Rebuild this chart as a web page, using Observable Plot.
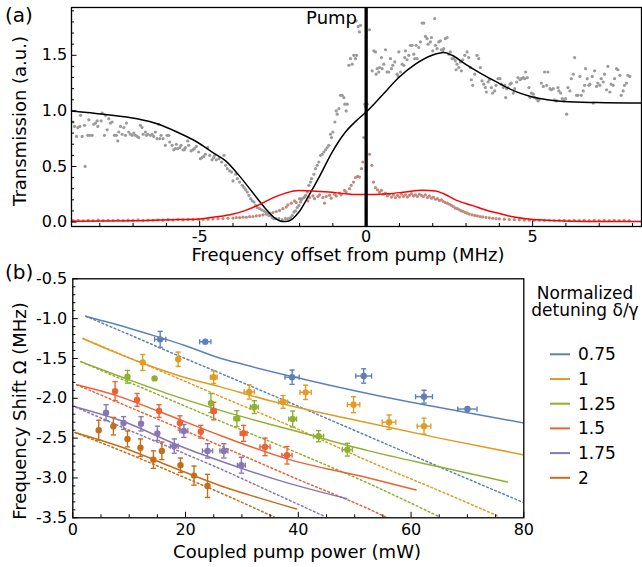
<!DOCTYPE html>
<html><head><meta charset="utf-8">
<script src="https://cdn.jsdelivr.net/npm/d3@7"></script>
<script src="https://cdn.jsdelivr.net/npm/@observablehq/plot@0.6"></script>
<style>
body{margin:0;background:#fff;font-family:"DejaVu Sans",sans-serif;}
#root{position:relative;width:642px;height:567px;overflow:hidden;background:#fff;}
</style></head><body><div id="root"></div>
<script>
// ---------- Panel (a) data ----------
const probePts = [
[-8.80,0.90],[-8.76,0.86],[-8.70,0.77],[-8.66,0.85],[-8.58,0.96],[-8.60,0.86],[-8.53,0.77],[-8.46,0.87],[-8.44,0.50],[-8.36,0.78],[-8.33,0.92],[-8.30,0.78],[-8.23,0.78],[-8.18,0.88],[-8.13,0.89],[-8.08,0.91],[-8.06,0.86],[-7.96,0.91],[-7.93,0.98],[-7.86,0.78],[-7.83,0.96],[-7.78,0.83],[-7.73,0.93],[-7.68,0.89],[-7.63,0.90],[-7.56,0.78],[-7.50,0.78],[-7.46,0.73],[-7.43,0.81],[-7.38,0.86],[-7.33,0.79],[-7.28,0.85],[-7.23,0.78],[-7.20,0.89],[-7.13,0.81],[-7.08,0.79],[-7.03,0.78],[-6.98,0.80],[-6.93,0.78],[-6.88,0.77],[-6.83,0.76],[-6.78,0.87],[-6.73,0.85],[-6.70,0.79],[-6.63,0.81],[-6.60,0.78],[-6.56,0.79],[-6.48,0.78],[-6.43,0.79],[-6.38,0.77],[-6.33,0.81],[-6.28,0.75],[-6.23,0.88],[-6.20,0.75],[-6.16,0.78],[-6.10,0.75],[-6.03,0.69],[-5.98,0.78],[-5.93,0.78],[-5.90,0.72],[-5.83,0.69],[-5.78,0.65],[-5.73,0.66],[-5.70,0.70],[-5.66,0.66],[-5.60,0.67],[-5.56,0.69],[-5.50,0.65],[-5.46,0.65],[-5.43,0.67],[-5.36,0.73],[-5.33,0.69],[-5.26,0.64],[-5.20,0.65],[-5.16,0.66],[-5.10,0.68],[-5.03,0.63],[-4.98,0.57],[-4.93,0.58],[-4.88,0.59],[-4.83,0.61],[-4.76,0.67],[-4.70,0.60],[-4.63,0.56],[-4.58,0.58],[-4.55,0.60],
[-4.50,0.56],[-4.42,0.57],[-4.34,0.54],[-4.27,0.60],[-4.22,0.51],[-4.17,0.48],[-4.10,0.46],[-4.04,0.45],[-4.00,0.37],[-3.92,0.43],[-3.87,0.39],[-3.80,0.36],[-3.72,0.33],[-3.67,0.31],[-3.62,0.29],[-3.57,0.27],[-3.52,0.24],[-3.47,0.21],[-3.42,0.19],[-3.37,0.18],[-3.32,0.15],[-3.27,0.13],[-3.20,0.12],[-3.14,0.11],[-3.07,0.10],[-3.02,0.09],[-2.97,0.08],[-2.92,0.06],[-2.87,0.06],[-2.82,0.04],[-2.77,0.03],[-2.72,0.03],[-2.62,0.03],[-2.52,0.02],[-2.42,0.03],[-2.34,0.03],[-2.27,0.04],[-2.22,0.06],[-2.17,0.09],[-2.12,0.10],[-2.07,0.13],[-2.02,0.15],[-1.97,0.18],[-1.92,0.21],[-1.87,0.22],[-1.82,0.24],[-1.77,0.27],[-1.72,0.33],[-1.67,0.36],[-1.64,0.39],[-1.57,0.43],[-1.52,0.48],[-1.47,0.51],[-1.42,0.54],[-1.37,0.60],[-1.32,0.61],[-1.27,0.63],[-1.22,0.65],[-1.17,0.67],[-1.12,0.69],[-1.07,0.79],[-1.04,0.76],[-1.00,0.81],[-0.94,0.90],[-0.90,1.00],[-0.87,0.97],[-0.82,1.02],[-0.77,1.14],[-0.72,1.14],[-0.67,1.12],[-0.64,1.06],[-0.60,1.00],[-0.57,1.06],[-0.52,1.41],[-0.47,1.47],[-0.42,1.42],[-0.37,1.50],[-0.32,1.47],[-0.29,1.50],
[-0.30,1.81],[-0.24,1.76],[-0.20,1.71],[-0.17,1.77],[-0.07,0.76],[-0.04,1.06],[-0.02,1.04],[0.03,1.06],[0.10,1.73],[0.18,1.36],[0.23,1.54],[0.28,1.53],[0.30,1.33],[0.33,1.38],[0.38,1.35],[0.40,1.39],[0.46,1.48],[0.48,1.38],[0.53,1.42],[0.58,1.55],[0.63,1.35],[0.68,1.35],[0.73,1.47],[0.76,1.38],[0.80,1.41],[0.86,1.44],[0.93,1.33],[0.96,1.31],[0.98,1.53],[1.03,1.35],[1.08,1.42],[1.13,1.41],[1.16,1.48],[1.18,1.54],[1.23,1.46],[1.28,1.50],[1.33,1.59],[1.38,1.59],[1.43,1.51],[1.46,1.47],[1.50,1.59],[1.53,1.47],[1.58,1.57],[1.63,1.62],[1.68,1.79],[1.73,1.79],[1.78,1.67],[1.83,1.65],[1.86,1.60],[1.93,1.62],[1.96,1.66],[2.00,1.54],[2.06,1.83],[2.08,1.59],[2.13,1.56],[2.18,1.62],[2.23,1.63],[2.26,1.55],[2.30,1.54],[2.33,1.56],[2.38,1.65],[2.43,1.66],[2.48,1.51],[2.53,1.53],[2.58,1.47],[2.63,1.47],[2.68,1.45],[2.70,1.37],[2.73,1.42],[2.78,1.39],[2.83,1.44],[2.86,1.36],[2.90,1.46],[2.96,1.50],[3.03,1.53],[3.08,1.48],[3.13,1.39],[3.16,1.28],[3.20,1.23],[3.26,1.33],[3.33,1.50],[3.38,1.47],[3.43,1.39],[3.48,1.27],[3.53,1.24],[3.58,1.21],[3.61,1.17],[3.66,1.26],[3.70,1.28],[3.76,1.21],[3.80,1.16],[3.86,1.18],[3.90,1.23],[3.96,1.29],
[4.02,1.29],[4.06,1.24],[4.12,1.21],[4.16,1.23],[4.19,1.12],[4.22,1.20],[4.26,1.21],[4.32,1.24],[4.36,1.25],[4.42,1.16],[4.46,1.20],[4.52,1.26],[4.56,1.30],[4.62,1.28],[4.66,1.29],[4.72,1.30],[4.76,1.29],[4.79,1.35],[4.84,1.30],[4.89,1.21],[4.92,1.12],[4.96,1.16],[5.02,1.15],[5.06,1.12],[5.12,1.11],[5.16,1.09],[5.19,1.10],[5.26,1.25],[5.32,1.22],[5.36,1.35],[5.42,1.23],[5.46,1.35],[5.52,1.20],[5.56,1.19],[5.62,1.20],[5.66,1.10],[5.72,1.09],[5.76,1.21],[5.79,1.18],[5.84,1.16],[5.89,1.11],[5.94,1.09],[5.99,1.11],[6.02,0.97],[6.06,1.21],[6.12,1.18],[6.16,1.29],[6.22,1.33],[6.26,1.48],[6.32,1.14],[6.36,1.14],[6.42,1.31],[6.46,1.14],[6.52,1.18],[6.56,1.23],[6.59,1.38],[6.64,1.29],[6.69,1.23],[6.72,1.24],[6.79,1.31],[6.82,1.07],[6.86,1.36],[6.92,1.22],[6.96,1.25],[7.02,1.23],[7.06,1.29],[7.12,1.26],[7.16,1.33],[7.22,1.19],[7.26,1.40],[7.32,1.17],[7.36,1.24],[7.42,1.23],[7.46,1.29],[7.52,1.38],[7.56,1.37],[7.62,1.32],[7.66,1.14],[7.72,1.18],[7.76,1.23],[7.82,1.25],[7.86,1.32],[7.92,1.31]
];
const couplePts = [
[-8.8,.012],[-8.65,.016],[-8.5,.011],[-8.35,.015],[-8.2,.013],[-8.05,.017],[-7.9,.012],[-7.75,.016],[-7.6,.014],[-7.45,.018],[-7.3,.013],[-7.15,.017],[-7.0,.015],[-6.85,.019],[-6.7,.014],[-6.55,.018],[-6.4,.016],[-6.25,.02],[-6.1,.017],[-5.95,.021],[-5.8,.018],[-5.65,.022],[-5.5,.019],[-5.35,.023],[-5.2,.021],[-5.05,.025],[-4.9,.023],[-4.75,.026],[-4.6,.028],[-4.45,.03],[-4.3,.031],[-4.15,.034],[-4.0,.036],[-3.9,.04],[-3.8,.039],[-3.7,.044],[-3.6,.043],[-3.5,.048],[-3.4,.05],[-3.3,.055],[-3.2,.058],[-3.1,.064],[-3.0,.07],[-2.9,.078],[-2.8,.085],[-2.7,.095],[-2.6,.105],[-2.5,.12],[-2.4,.135],[-2.35,.155],[-2.25,.17],[-2.15,.19],[-2.1,.175],[-2.0,.21],[-1.95,.2],[-1.85,.225],[-1.75,.19],[-1.7,.22],[-1.6,.235],[-1.55,.21],[-1.45,.23],[-1.4,.245],[-1.3,.22],[-1.25,.17],[-1.2,.23],[-1.1,.24],[-1.05,.215],[-0.95,.25],[-0.9,.235],[-0.8,.26],[-0.75,.245],[-0.65,.285],[-0.6,.27],[-0.5,.3],[-0.45,.33],[-0.38,.36],[-0.32,.4],[-0.26,.41],[-0.2,.405],[-0.14,.48],[-0.1,.54],[0.1,.61],[0.17,.51],[0.22,.36],[0.28,.31],[0.34,.29],[0.4,.27],[0.46,.285],[0.52,.25],[0.58,.26],[0.64,.235],[0.7,.25],[0.76,.225],[0.82,.245],[0.88,.22],[0.94,.24],[1.0,.225],[1.06,.25],[1.12,.23],[1.18,.245],[1.24,.225],[1.3,.24],[1.36,.255],[1.42,.235],[1.48,.245],[1.54,.23],[1.6,.25],[1.66,.24],[1.72,.23],[1.78,.245],[1.84,.22],[1.9,.235],[1.96,.215],[2.02,.225],[2.08,.205],[2.14,.21],[2.2,.195],[2.26,.2],[2.32,.185],[2.38,.175],[2.44,.17],[2.5,.16],[2.56,.15],[2.62,.14],[2.68,.125],[2.74,.12],[2.8,.11],[2.86,.1],[2.92,.095],[2.98,.085],[3.04,.08],[3.1,.072],[3.18,.065],[3.26,.06],[3.34,.055],[3.42,.05],[3.5,.046],[3.6,.042],[3.7,.038],[3.8,.034],[3.9,.031],[4.0,.028],[4.15,.026],[4.3,.023],[4.45,.021],[4.6,.02],[4.75,.018],[4.9,.017],[5.05,.016],[5.2,.017],[5.35,.015],[5.5,.016],[5.65,.014],[5.8,.016],[5.95,.015],[6.1,.013],[6.25,.016],[6.4,.014],[6.55,.015],[6.7,.013],[6.85,.016],[7.0,.014],[7.15,.015],[7.3,.013],[7.45,.016],[7.6,.014],[7.75,.015],[7.9,.013]
];
const probeFit = [[-8.85,1.0],[-7.88,0.97],[-6.88,0.93],[-6.23,0.88],[-5.68,0.81],[-5.08,0.72],[-4.58,0.62],[-4.22,0.55],[-3.82,0.42],[-3.42,0.27],[-3.02,0.12],[-2.72,0.03],[-2.52,0.005],[-2.32,0.01],[-2.02,0.09],[-1.72,0.24],[-1.42,0.40],[-1.02,0.63],[-0.62,0.81],[-0.3,0.91],[0,0.99],[0.48,1.14],[0.98,1.30],[1.48,1.42],[1.98,1.50],[2.33,1.525],[2.58,1.50],[2.98,1.42],[3.48,1.33],[3.98,1.25],[4.44,1.18],[4.94,1.13],[5.44,1.10],[5.94,1.085],[6.94,1.075],[8.27,1.07]];
const coupleFit = [[-8.85,0.008],[-6.88,0.012],[-5.88,0.02],[-5.0,0.028],[-4.55,0.045],[-4.02,0.07],[-3.62,0.105],[-3.22,0.155],[-2.82,0.215],[-2.42,0.26],[-2.02,0.283],[-1.62,0.28],[-1.12,0.27],[-0.62,0.255],[-0.3,0.248],[0.2,0.248],[0.68,0.255],[1.18,0.27],[1.68,0.285],[2.08,0.28],[2.33,0.255],[2.68,0.20],[3.18,0.15],[3.68,0.10],[4.03,0.075],[4.44,0.045],[4.94,0.025],[5.94,0.01],[7.0,0.005],[8.27,0.004]];
const aXMajor = [-5,0,5];
const aXMinor = [-8,-7,-6,-4,-3,-2,-1,1,2,3,4,6,7,8];
const aYMajor = [0,0.5,1,1.5];
const aYMinor = [0.1,0.2,0.3,0.4,0.6,0.7,0.8,0.9,1.1,1.2,1.3,1.4,1.6,1.7,1.8,1.9];

// ---------- Panel (b) data ----------
const detuning = ["0.75","1","1.25","1.5","1.75","2"];
const palette = ["#5e81b5","#e19c24","#8fb032","#eb6235","#8778b3","#c56e1a"];
// [power mW, shift MHz, power error, shift error]
const meas075 = [[15.5,-1.26,1.0,0.10],[23.5,-1.29,1.0,0],[38.9,-1.735,1.25,0.09],[51.6,-1.72,1.4,0.09],[62.3,-1.98,1.5,0.08],[70.0,-2.135,1.7,0]];
const meas100 = [[12.4,-1.55,0,0.10],[18.7,-1.51,0,0.09],[25.0,-1.735,0.6,0.08],[31.3,-1.92,0.9,0.09],[37.3,-2.045,0.8,0.08],[41.3,-1.925,1.0,0.09],[49.8,-2.08,1.1,0.10],[56.1,-2.30,1.2,0.09],[62.3,-2.35,1.2,0.10]];
const meas125 = [[9.7,-1.73,0,0.08],[14.5,-1.75,0,0],[24.5,-2.06,0,0.12],[29.1,-2.255,0.5,0.10],[32.2,-2.11,0.7,0.08],[39.0,-2.26,0.7,0.10],[43.6,-2.475,0.9,0.07],[48.7,-2.645,0.9,0.08]];
const meas150 = [[7.5,-1.91,0,0.12],[11.4,-2.02,0,0.08],[15.3,-2.16,0,0.08],[19.0,-2.31,0,0.09],[22.7,-2.42,0,0.08],[25.0,-2.16,0.4,0.11],[30.3,-2.44,0.6,0.10],[34.1,-2.61,0.9,0.11],[38.0,-2.715,0.9,0.11]];
const meas175 = [[5.9,-2.18,0,0.10],[9.0,-2.31,0,0.08],[12.1,-2.32,0,0.09],[15.0,-2.44,0,0.09],[18.0,-2.60,0.7,0.09],[19.7,-2.41,0.7,0.08],[23.9,-2.66,0.9,0.09],[26.8,-2.66,0.7,0.09],[29.9,-2.84,0.7,0.10]];
const meas200 = [[4.6,-2.40,0,0.125],[7.2,-2.35,0,0.11],[9.7,-2.51,0,0.10],[12.0,-2.62,0,0.11],[14.3,-2.77,0,0.11],[15.8,-2.66,0,0.11],[19.1,-2.84,0,0.09],[21.5,-2.97,0,0.12],[23.9,-3.10,0,0.145]];
const solid075 = [[2.3,-0.97],[10,-1.12],[15.4,-1.235],[20,-1.34],[26.3,-1.50],[30,-1.57],[40,-1.745],[50,-1.905],[60,-2.05],[70,-2.18],[80,-2.31]];
const solid100 = [[1.8,-1.25],[6,-1.38],[12.4,-1.56],[19,-1.72],[26.3,-1.86],[35,-2.03],[43,-2.165],[52.5,-2.31],[65,-2.50],[80,-2.71]];
const solid125 = [[1.4,-1.54],[9.7,-1.76],[18,-1.97],[26.3,-2.155],[40,-2.42],[52.5,-2.66],[65,-2.86],[77.1,-3.05]];
const solid150 = [[0.7,-1.83],[7.5,-1.96],[15.3,-2.165],[26.3,-2.47],[38,-2.76],[52.5,-3.0],[60.9,-3.15]];
const solid175 = [[0.5,-2.11],[9.7,-2.31],[18,-2.57],[26.3,-2.79],[37,-3.04],[48.6,-3.26]];
const solid200 = [[0.4,-2.43],[9.7,-2.64],[18,-2.875],[26.3,-3.10],[33,-3.25],[39.7,-3.39]];
const dotted075 = [[2.3,-0.97],[10,-1.20],[15.4,-1.365],[26.3,-1.69],[40,-2.10],[52.5,-2.48],[65,-2.86],[80,-3.31]];
const dotted100 = [[1.8,-1.25],[10,-1.49],[20,-1.79],[26.3,-1.98],[40,-2.39],[52.5,-2.79],[65,-3.16],[75.5,-3.48]];
const dotted125 = [[1.4,-1.54],[10,-1.80],[20,-2.10],[26.3,-2.29],[40,-2.69],[52.5,-3.07],[64.8,-3.48]];
const dotted150 = [[0.7,-1.83],[10,-2.11],[20,-2.41],[26.3,-2.60],[40,-3.02],[52.5,-3.39],[55.5,-3.49]];
const dotted175 = [[0.5,-2.11],[10,-2.40],[20,-2.70],[26.3,-2.89],[35,-3.17],[44.6,-3.48]];
const dotted200 = [[0.4,-2.43],[10,-2.70],[20,-3.00],[26.3,-3.19],[35.7,-3.49]];
const bXMajor = [0,20,40,60,80];
const bXMinor = [5,10,15,25,30,35,45,50,55,65,70,75];
const bYMajor = [-3.5,-3,-2.5,-2,-1.5,-1,-0.5];
const bYMinor = [-3.4,-3.3,-3.2,-3.1,-2.9,-2.8,-2.7,-2.6,-2.4,-2.3,-2.2,-2.1,-1.9,-1.8,-1.7,-1.6,-1.4,-1.3,-1.2,-1.1,-0.9,-0.8,-0.7,-0.6];

// ---------- build ----------
const FONT = "DejaVu Sans";
const root = document.getElementById("root");
const hy = s => String(s).replace(/\u2212/g, "-");
const f1 = d3.format(".1f");
function place(el, left, top) { el.style.position = "absolute"; el.style.left = left + "px"; el.style.top = top + "px"; root.appendChild(el); }
const baseStyle = {fontFamily: FONT, fontSize: "16px", color: "black", background: "transparent", overflow: "visible"};

const aW = 642, aH = 262, aML = 71, aMR = 1, aMT = 7, aMB = 36;
const aFH = aH - aMT - aMB, aFW = aW - aML - aMR;
const plotA = Plot.plot({
  width: aW, height: aH, marginLeft: aML, marginRight: aMR, marginTop: aMT, marginBottom: aMB,
  x: {domain: [-8.85, 8.27]}, y: {domain: [-0.04, 1.93]},
  style: baseStyle,
  marks: [
    Plot.dot(couplePts, {x: d => d[0], y: d => d[1], r: 1.6, fill: "#c4887a"}),
    Plot.dot(probePts, {x: d => d[0], y: d => d[1], r: 1.6, fill: "#9b9b9b"}),
    Plot.line(probeFit, {x: d => d[0], y: d => d[1], stroke: "black", strokeWidth: 1.5, curve: "monotone-x"}),
    Plot.line(coupleFit, {x: d => d[0], y: d => d[1], stroke: "#ff0000", strokeWidth: 1.5, curve: "monotone-x"}),
    Plot.ruleX([0], {stroke: "black", strokeWidth: 3.3}),
    Plot.tickX(aXMinor, {x: d => d, stroke: "black", strokeWidth: 1, insetTop: aFH - 3}),
    Plot.tickX(aXMajor, {x: d => d, stroke: "black", strokeWidth: 1, insetTop: aFH - 5.5}),
    Plot.tickY(aYMinor, {y: d => d, stroke: "black", strokeWidth: 1, insetRight: aFW - 3}),
    Plot.tickY(aYMajor, {y: d => d, stroke: "black", strokeWidth: 1, insetRight: aFW - 5.5}),
    Plot.axisX(aXMajor, {tickSize: 0, tickPadding: 4, tickFormat: d => hy(d), label: null, fontSize: 16}),
    Plot.axisY(aYMajor, {tickSize: 0, tickPadding: 4.3, tickFormat: d => hy(f1(d)), label: null, fontSize: 16}),
    Plot.frame({stroke: "black", strokeWidth: 1.3})
  ]
});
place(plotA, 0, 0);

const measAll = [meas075, meas100, meas125, meas150, meas175, meas200];
const solidAll = [solid075, solid100, solid125, solid150, solid175, solid200];
const dottedAll = [dotted075, dotted100, dotted125, dotted150, dotted175, dotted200];
const pointRows = measAll.flatMap((arr, i) => arr.map(([p, s, ep, es]) => ({det: detuning[i], p, s, ep, es})));
const solidRows = solidAll.flatMap((arr, i) => arr.map(([p, s]) => ({det: detuning[i], p, s})));
const dottedRows = dottedAll.flatMap((arr, i) => arr.map(([p, s]) => ({det: detuning[i], p, s})));
const vBars = pointRows.filter(d => d.es > 0);
const hBars = pointRows.filter(d => d.ep > 0);
const hcap = {draw(ctx, size) { const w = Math.sqrt(size / Math.PI); ctx.moveTo(-w, 0); ctx.lineTo(w, 0); }};
const vcap = {draw(ctx, size) { const w = Math.sqrt(size / Math.PI); ctx.moveTo(0, -w); ctx.lineTo(0, w); }};

const bW = 642, bH = 307, bML = 72.3, bMR = 118.7, bMT = 18.3, bMB = 49.7;
const bFH = bH - bMT - bMB, bFW = bW - bML - bMR;
const plotB = Plot.plot({
  width: bW, height: bH, marginLeft: bML, marginRight: bMR, marginTop: bMT, marginBottom: bMB,
  x: {domain: [0, 80]}, y: {domain: [-3.5, -0.5]},
  color: {domain: detuning, range: palette},
  style: baseStyle,
  marks: [
    Plot.line(dottedRows, {x: "p", y: "s", z: "det", stroke: "det", strokeWidth: 1.5, strokeDasharray: "1.8 2.6", curve: "monotone-x", clip: true}),
    Plot.line(solidRows, {x: "p", y: "s", z: "det", stroke: "det", strokeWidth: 1.5, curve: "monotone-x", clip: true}),
    Plot.ruleX(vBars, {x: "p", y1: d => d.s - d.es, y2: d => d.s + d.es, stroke: "det", strokeWidth: 1.4}),
    Plot.dot(vBars, {x: "p", y: d => d.s + d.es, symbol: hcap, r: 2.6, stroke: "det", fill: "none", strokeWidth: 1.4}),
    Plot.dot(vBars, {x: "p", y: d => d.s - d.es, symbol: hcap, r: 2.6, stroke: "det", fill: "none", strokeWidth: 1.4}),
    Plot.ruleY(hBars, {y: "s", x1: d => d.p - d.ep, x2: d => d.p + d.ep, stroke: "det", strokeWidth: 1.4}),
    Plot.dot(hBars, {x: d => d.p - d.ep, y: "s", symbol: vcap, r: 2.6, stroke: "det", fill: "none", strokeWidth: 1.4}),
    Plot.dot(hBars, {x: d => d.p + d.ep, y: "s", symbol: vcap, r: 2.6, stroke: "det", fill: "none", strokeWidth: 1.4}),
    Plot.dot(pointRows, {x: "p", y: "s", fill: "det", r: 3.2}),
    Plot.tickX(bXMinor, {x: d => d, stroke: "black", strokeWidth: 1, insetTop: bFH - 3}),
    Plot.tickX(bXMajor, {x: d => d, stroke: "black", strokeWidth: 1, insetTop: bFH - 5.5}),
    Plot.tickY(bYMinor, {y: d => d, stroke: "black", strokeWidth: 1, insetRight: bFW - 3}),
    Plot.tickY(bYMajor, {y: d => d, stroke: "black", strokeWidth: 1, insetRight: bFW - 5.5}),
    Plot.axisX(bXMajor, {tickSize: 0, tickPadding: 6, tickFormat: d => hy(d), label: null, fontSize: 16}),
    Plot.axisY(bYMajor, {tickSize: 0, tickPadding: 5.6, tickFormat: d => hy(f1(d)), label: null, fontSize: 16}),
    Plot.frame({stroke: "black", strokeWidth: 1.3})
  ]
});
place(plotB, 0, 260);

// ---------- titles, labels and legend ----------
const ov = d3.create("svg").attr("width", 642).attr("height", 567)
  .style("position", "absolute").style("left", "0px").style("top", "0px")
  .style("font-family", FONT).style("overflow", "visible");
function T(x, y, txt, size, anchor = "start", rot = 0) {
  ov.append("text").attr("transform", `translate(${x},${y}) rotate(${rot})`)
    .attr("text-anchor", anchor).attr("font-size", size).attr("fill", "black").text(txt);
}
T(5, 22, "(a)", 20);
T(5, 279, "(b)", 20);
T(357, 23.5, "Pump", 18, "end");
T(348, 261, "Frequency offset from pump (MHz)", 18, "middle");
T(26, 121, "Transmission (a.u.)", 18, "middle", -90);
T(26, 411, "Frequency Shift \u03a9 (MHz)", 18, "middle", -90);
T(297, 558, "Coupled pump power (mW)", 18, "middle");
T(585, 299, "Normalized", 17, "middle");
T(585, 316, "detuning \u03b4/\u03b3", 17, "middle");
detuning.forEach((lab, i) => {
  const y = 354.3 + i * 24.7;
  ov.append("line").attr("x1", 550).attr("x2", 570).attr("y1", y).attr("y2", y)
    .attr("stroke", palette[i]).attr("stroke-width", 2);
  T(578, y + 6, lab, 17);
});
root.appendChild(ov.node());
</script></body></html>
